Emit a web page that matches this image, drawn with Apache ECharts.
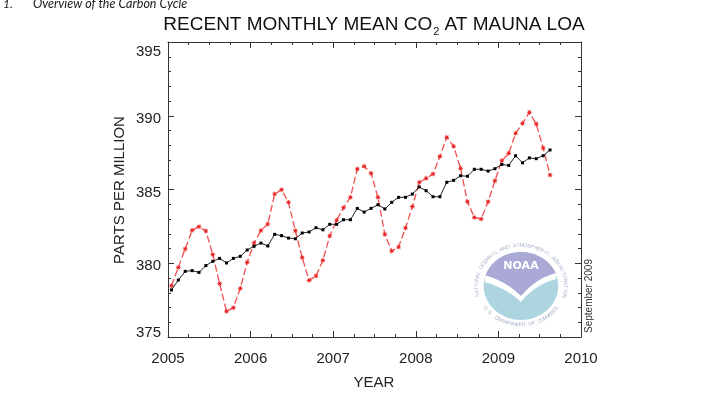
<!DOCTYPE html>
<html><head><meta charset="utf-8">
<script src="https://cdn.jsdelivr.net/npm/echarts@6/dist/echarts.min.js"></script>
<style>html,body{margin:0;padding:0;background:#fff}#c{width:723px;height:398px}</style>
</head><body><div id="c"></div>
<script>
const FONT = '"Liberation Sans", Arial, Helvetica, sans-serif';

const months = [
  '2005-01','2005-02','2005-03','2005-04','2005-05','2005-06','2005-07','2005-08','2005-09','2005-10','2005-11','2005-12',
  '2006-01','2006-02','2006-03','2006-04','2006-05','2006-06','2006-07','2006-08','2006-09','2006-10','2006-11','2006-12',
  '2007-01','2007-02','2007-03','2007-04','2007-05','2007-06','2007-07','2007-08','2007-09','2007-10','2007-11','2007-12',
  '2008-01','2008-02','2008-03','2008-04','2008-05','2008-06','2008-07','2008-08','2008-09','2008-10','2008-11','2008-12',
  '2009-01','2009-02','2009-03','2009-04','2009-05','2009-06','2009-07','2009-08'
];
const monthlyMean = [
  378.48, 379.72, 380.97, 382.23, 382.48, 382.19, 380.60, 378.62, 376.74, 376.99, 378.30, 380.06,
  381.37, 382.22, 382.66, 384.69, 384.99, 384.13, 382.20, 380.38, 378.84, 379.14, 380.20, 381.85,
  382.91, 383.77, 384.47, 386.39, 386.57, 386.10, 384.47, 381.96, 380.83, 381.10, 382.39, 383.84,
  385.49, 385.76, 386.05, 387.23, 388.54, 387.93, 386.44, 384.17, 383.11, 383.00, 384.17, 385.60,
  386.95, 387.45, 388.81, 389.49, 390.23, 389.44, 387.81, 385.98
];
const trend = [
  378.19, 378.86, 379.45, 379.50, 379.38, 379.84, 380.13, 380.33, 380.02, 380.33, 380.47, 380.90,
  381.15, 381.37, 381.17, 381.96, 381.87, 381.71, 381.66, 382.05, 382.12, 382.41, 382.27, 382.64,
  382.64, 382.95, 382.95, 383.72, 383.47, 383.72, 383.97, 383.68, 384.13, 384.47, 384.47, 384.69,
  385.17, 384.92, 384.51, 384.51, 385.49, 385.62, 385.93, 385.90, 386.37, 386.37, 386.25, 386.41,
  386.70, 386.63, 387.29, 386.81, 387.14, 387.09, 387.29, 387.68
];
const yearTicks = ['2005', '2006', '2007', '2008', '2009', '2010'];
const ppmTicks = ['375', '380', '385', '390', '395'];

const toYear = s => { const p = s.split('-').map(Number); return p[0] + (p[1] - 0.5) / 12; };
const xMin = +yearTicks[0], xMax = +yearTicks[yearTicks.length - 1];
const yMin = +ppmTicks[0], yMax = +ppmTicks[ppmTicks.length - 1];

const chart = echarts.init(document.getElementById('c'), null, { renderer: 'canvas' });

const lineStyleAxis = { color: '#333', width: 1 };
function axisBase(extra) {
  return Object.assign({
    type: 'value',
    axisLine: { show: true, onZero: false, lineStyle: lineStyleAxis },
    axisTick: { show: true, inside: true, length: 6, lineStyle: lineStyleAxis },
    splitLine: { show: false }
  }, extra);
}

const lab = { fontSize: 15, fontFamily: FONT, color: '#222', fontWeight: 'normal' };

// NOAA logo (decorative)
const logoKids = [];
const R0 = 34;
function arcPts(r, a0, a1, n) { const p = []; for (let i = 0; i <= n; i++) { const a = a0 + (a1 - a0) * i / n; p.push([r * Math.sin(a), -r * Math.cos(a)]); } return p; }
function quadPts(p0, c, p1, n) { const p = []; for (let i = 1; i <= n; i++) { const t = i / n, u = 1 - t; p.push([u*u*p0[0] + 2*u*t*c[0] + t*t*p1[0], u*u*p0[1] + 2*u*t*c[1] + t*t*p1[1]]); } return p; }
const deg = Math.PI / 180;
const aL = -72 * deg, aR = 68 * deg;
const Lp = [R0 * Math.sin(aL), -R0 * Math.cos(aL)], Rp = [R0 * Math.sin(aR), -R0 * Math.cos(aR)];
const dip = [0, 10];
const upperCurve = [Rp].concat(quadPts(Rp, [14, -8], dip, 14), quadPts(dip, [-14, -5], Lp, 14));
const purple = arcPts(R0, aL, aR, 40).concat(upperCurve.slice(1));
const lowerCurve = [[-33, -4]].concat(quadPts([-33, -4], [-12, 3], [0, 16], 14), quadPts([0, 16], [12, -1], [32, -7], 14));
logoKids.push({ type: 'circle', shape: { cx: 0, cy: 0, r: R0 }, style: { fill: '#acd5e0' } });
logoKids.push({ type: 'polygon', shape: { points: purple }, style: { fill: '#aaa8d4' } });
logoKids.push({ type: 'polygon', shape: { points: upperCurve.concat(lowerCurve) }, style: { fill: '#ffffff' } });
logoKids.push({ type: 'text', x: 0, y: -20, style: { text: 'NOAA', font: 'bold 10px "DejaVu Sans", sans-serif', fill: '#ffffff', textAlign: 'center', textVerticalAlign: 'middle' } });
const topTxt = 'NATIONAL OCEANIC AND ATMOSPHERIC ADMINISTRATION';
const botTxt = 'U.S. DEPARTMENT OF COMMERCE';
const ringStyle = { font: '5px ' + FONT, fill: '#a9b4cb', textAlign: 'center', textVerticalAlign: 'middle' };
for (let i = 0; i < topTxt.length; i++) {
  const a = (-105 + 212 * (i + 0.5) / topTxt.length) * deg, R = 40.5;
  logoKids.push({ type: 'text', x: R * Math.sin(a), y: -R * Math.cos(a), rotation: -a, style: Object.assign({ text: topTxt[i] }, ringStyle) });
}
for (let i = 0; i < botTxt.length; i++) {
  const a = (-58 + 116 * (i + 0.5) / botTxt.length) * deg, R = 39;
  logoKids.push({ type: 'text', x: R * Math.sin(a), y: R * Math.cos(a), rotation: a, style: Object.assign({ text: botTxt[i] }, ringStyle) });
}

const asterisk = 'path://M0,-1 L0.172,-0.416 L0.707,-0.707 L0.416,-0.172 L1,0 L0.416,0.172 L0.707,0.707 L0.172,0.416 L0,1 L-0.172,0.416 L-0.707,0.707 L-0.416,0.172 L-1,0 L-0.416,-0.172 L-0.707,-0.707 L-0.172,-0.416 Z';

chart.setOption({
  animation: false,
  backgroundColor: '#ffffff',
  title: {
    text: '{a|RECENT MONTHLY MEAN CO}{s|2}{a| AT MAUNA LOA}',
    left: 374, top: 12, textAlign: 'center', padding: 0,
    textStyle: {
      fontWeight: 'normal',
      rich: {
        a: { fontSize: 19, fontFamily: FONT, color: '#111', fontWeight: 'normal', verticalAlign: 'middle', lineHeight: 22 },
        s: { fontSize: 11, fontFamily: FONT, color: '#111', fontWeight: 'normal', verticalAlign: 'middle', padding: [14, 0, 0, 1] }
      }
    }
  },
  grid: { left: 168, right: 142, top: 42, bottom: 61, containLabel: false },
  xAxis: [
    axisBase({ position: 'bottom', min: xMin, max: xMax, interval: 1,
      minorTick: { show: true, splitNumber: 4, length: 3, lineStyle: lineStyleAxis },
      axisLabel: Object.assign({ show: true, margin: 14, formatter: v => String(v) }, lab) }),
    axisBase({ position: 'top', min: xMin, max: xMax, interval: 1,
      minorTick: { show: true, splitNumber: 4, length: 3, lineStyle: lineStyleAxis },
      axisLabel: { show: false } })
  ],
  yAxis: [
    axisBase({ position: 'left', min: yMin, max: yMax, interval: 5,
      minorTick: { show: true, splitNumber: 5, length: 3, lineStyle: lineStyleAxis },
      axisLabel: {
        show: true, margin: 7,
        formatter: v => (v === yMax ? '{t|' + v + '}' : v === yMin ? '{b|' + v + '}' : '{n|' + v + '}'),
        rich: {
          n: Object.assign({ padding: [6, 0, 0, 0] }, lab),
          t: Object.assign({ padding: [19, 0, 0, 0] }, lab),
          b: Object.assign({ padding: [0, 0, 8, 0] }, lab)
        }
      } }),
    axisBase({ position: 'right', min: yMin, max: yMax, interval: 5,
      minorTick: { show: true, splitNumber: 5, length: 3, lineStyle: lineStyleAxis },
      axisLabel: { show: false } })
  ],
  series: [
    {
      name: 'Monthly mean', type: 'line', xAxisIndex: 0, yAxisIndex: 0,
      data: months.map((m, i) => [toYear(m), monthlyMean[i]]),
      symbol: asterisk, symbolSize: 6, showAllSymbol: true,
      lineStyle: { color: '#f05050', width: 1.3, type: [7, 3] },
      itemStyle: { color: '#e82828' }, z: 3
    },
    {
      name: 'Trend', type: 'line', xAxisIndex: 0, yAxisIndex: 0,
      data: months.map((m, i) => [toYear(m), trend[i]]),
      symbol: 'rect', symbolSize: 3, showAllSymbol: true,
      lineStyle: { color: '#222', width: 1 },
      itemStyle: { color: '#000' }, z: 4
    }
  ],
  graphic: [
    { type: 'text', x: 3, y: 4, silent: true, style: { text: '1.', font: 'italic 12px Lato, "Open Sans", sans-serif', fill: '#1a1a1a', textAlign: 'left', textVerticalAlign: 'middle' } },
    { type: 'text', x: 33, y: 4, silent: true, style: { text: 'Overview of the Carbon Cycle', font: 'italic 12.5px Lato, "Open Sans", sans-serif', fill: '#1a1a1a', textAlign: 'left', textVerticalAlign: 'middle' } },
    { type: 'text', x: 120, y: 190, rotation: Math.PI / 2, silent: true, style: { text: 'PARTS PER MILLION', font: '15px ' + FONT, fill: '#222', textAlign: 'center', textVerticalAlign: 'middle' } },
    { type: 'text', x: 374, y: 383, silent: true, style: { text: 'YEAR', font: '15px ' + FONT, fill: '#222', textAlign: 'center', textVerticalAlign: 'middle' } },
    { type: 'text', x: 589, y: 296, rotation: Math.PI / 2, silent: true, style: { text: 'September 2009', font: '10px ' + FONT, fill: '#333', textAlign: 'center', textVerticalAlign: 'middle' } },
    { type: 'group', x: 521, y: 286, scaleX: 1.1, scaleY: 1, silent: true, z: 1, children: logoKids }
  ]
});
</script>
</body></html>
